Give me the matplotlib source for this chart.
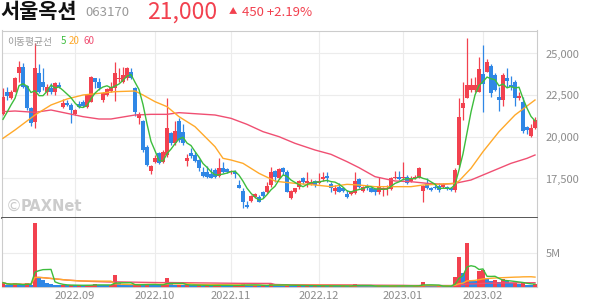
import numpy as np
import pandas as pd
import matplotlib
matplotlib.use('Agg')
import matplotlib.pyplot as plt

plt.rcParams['font.family'] = ['Noto Sans CJK KR', 'DejaVu Sans']

# daily OHLC (KRW), 2022-08 .. 2023-02-17
opens = [21370, 22710, 22310, 22710, 23810, 24210, 23050, 21750, 20870, 23810,
         23310, 22670, 22950, 22710, 23110, 21810, 22010, 21910, 21350, 21950,
         22110, 21810, 22110, 23510, 23310, 22210, 22510, 22750, 22910, 23450,
         23310, 23510, 23910, 22910, 21150, 20950, 19410, 17950, 18510, 19010,
         18510, 18910, 20210, 19610, 20950, 20310, 18550, 19010, 18910, 18590,
         17870, 17910, 17750, 18010, 17670, 18150, 18070, 17870, 17910, 17110,
         16750, 15910, 16150, 16410, 16410, 16670, 16710, 17110, 17950, 17510,
         18110, 17910, 16350, 16710, 17010, 17550, 17210, 17150, 17350, 17210,
         17470, 17630, 17150, 16750, 17010, 16910, 16550, 16550, 16610, 17470,
         16750, 17070, 16950, 16870, 16710, 16810, 16870, 16870, 17510, 17610,
         17510, 17610, 17350, 17550, 17550, 16750, 17150, 16950, 17010, 17070,
         17010, 17010, 16910, 16810, 18310, 21710, 22350, 22810, 22810, 22710,
         23750, 23910, 24270, 23710, 22410, 22210, 23510, 23110, 23310, 22310,
         22110, 20610, 20050, 20510]
highs = [22910, 23010, 22810, 23610, 24550, 24410, 23110, 21810, 25610, 24350,
         24110, 23150, 23210, 23310, 23310, 22270, 22210, 22010, 21670, 22150,
         22210, 22550, 23670, 23550, 23550, 22670, 22950, 23310, 24470, 24110,
         24210, 24170, 24110, 23010, 21470, 21010, 19510, 18310, 18910, 19110,
         19210, 22350, 20310, 20950, 21110, 20750, 18950, 19310, 19110, 18670,
         18210, 18270, 18110, 18110, 18710, 18510, 18150, 18030, 18010, 17410,
         16910, 16150, 16510, 16610, 16510, 16750, 17310, 18210, 18010, 18110,
         18210, 18010, 16810, 16950, 17410, 17610, 17870, 17470, 17410, 17810,
         17870, 17910, 17310, 17110, 17210, 17010, 16810, 16750, 17910, 17550,
         17070, 17150, 17010, 16950, 17610, 17010, 17110, 17610, 17950, 17950,
         18470, 17710, 17670, 17710, 18210, 17110, 17510, 17010, 17110, 17210,
         17210, 17070, 17010, 18150, 22350, 23310, 25950, 23510, 23610, 24810,
         25510, 24670, 24350, 23810, 23010, 23810, 24150, 23670, 23410, 22710,
         22410, 20650, 20750, 21210]
lows = [21310, 22210, 22270, 22670, 23310, 22910, 21610, 20670, 20550, 22610,
        22810, 22510, 22550, 22510, 22910, 21750, 21850, 20810, 21310, 21750,
        21810, 21750, 22070, 22910, 22810, 22110, 22470, 22670, 22150, 23310,
        23210, 23410, 23450, 21250, 20750, 19110, 18270, 17750, 18410, 18350,
        18410, 18810, 19510, 19510, 19710, 19510, 18270, 18750, 18510, 17950,
        17610, 17550, 17510, 17550, 17610, 17810, 17810, 17790, 17550, 16910,
        15750, 15750, 16110, 16310, 16070, 16310, 16610, 17010, 17310, 17470,
        17710, 16670, 16270, 16610, 16870, 17150, 17010, 17110, 17010, 17150,
        17350, 17310, 16710, 16550, 16670, 16710, 16350, 16510, 16550, 16910,
        16710, 16810, 16670, 16510, 16550, 16470, 16510, 16810, 17470, 17410,
        17410, 17150, 17310, 17470, 17510, 16110, 16870, 16770, 16870, 16710,
        16950, 16810, 16750, 16710, 18210, 21010, 22310, 22710, 22710, 22670,
        21510, 23870, 22410, 22750, 21550, 21870, 23010, 22810, 21870, 22210,
        20210, 20170, 20010, 20450]
closes = [22410, 22450, 22710, 23550, 24210, 23010, 21710, 20810, 24110, 22710,
          23010, 23010, 22710, 23210, 23010, 22010, 21910, 21610, 21610, 21810,
          21870, 22510, 23610, 23310, 22910, 22610, 22870, 23010, 23810, 23550,
          23710, 24110, 23510, 21510, 21350, 19210, 18310, 18250, 18710, 18410,
          19070, 20510, 19610, 20350, 19810, 19610, 18750, 18870, 18550, 18150,
          17670, 17610, 17550, 17610, 18150, 17910, 17910, 17970, 17750, 16950,
          16110, 15810, 16450, 16550, 16110, 16470, 17070, 17910, 17610, 18050,
          17910, 16710, 16750, 16910, 17350, 17310, 17350, 17310, 17110, 17350,
          17610, 17550, 16950, 16950, 16710, 16750, 16410, 16670, 17350, 17010,
          17010, 16950, 16710, 16710, 17010, 16910, 16950, 17550, 17610, 17470,
          17610, 17210, 17550, 17610, 18110, 17050, 16910, 16810, 16910, 16810,
          17150, 16870, 16810, 18010, 21210, 22010, 23110, 23110, 23110, 24050,
          23150, 24510, 22610, 22810, 22210, 23710, 23350, 23010, 22350, 22470,
          20350, 20410, 20550, 21000]
# volume, millions of shares
volumes_m = [0.63, 0.30, 0.28, 0.53, 0.30, 0.27, 0.58, 0.32, 9.35, 1.36,
             1.00, 0.63, 0.44, 0.29, 0.27, 0.31, 0.25, 0.28, 0.22, 0.26,
             0.24, 0.27, 0.30, 0.45, 0.28, 0.25, 0.22, 0.26, 1.74, 0.55,
             0.30, 0.28, 0.27, 0.32, 0.45, 0.36, 0.40, 0.33, 0.30, 0.26,
             0.28, 1.30, 0.48, 0.30, 0.33, 0.28, 0.30, 0.26, 0.22, 0.24,
             0.21, 0.23, 0.20, 0.22, 0.30, 0.24, 0.20, 0.18, 0.21, 0.27,
             0.44, 0.33, 0.22, 0.25, 0.20, 0.23, 0.21, 0.44, 0.30, 0.25,
             0.22, 0.30, 0.24, 0.20, 0.22, 0.18, 0.20, 0.17, 0.19, 0.16,
             0.18, 0.16, 0.19, 0.17, 0.15, 0.16, 0.14, 0.15, 0.44, 0.20,
             0.16, 0.15, 0.14, 0.13, 0.17, 0.14, 0.13, 0.15, 0.20, 0.16,
             0.18, 0.15, 0.14, 0.16, 0.25, 0.78, 0.22, 0.14, 0.12, 0.13,
             0.12, 0.14, 0.12, 1.50, 4.40, 2.10, 6.44, 1.00, 0.90, 2.30,
             2.47, 1.10, 0.92, 1.00, 0.78, 1.10, 0.87, 0.63, 0.65, 0.39,
             0.73, 0.29, 0.24, 0.44]

# moving averages (values before the window are not shown)
ma5_head = [21050, 21470, 21910, 22310]
ma20_idx = [0, 3, 8, 12, 16, 20, 24, 28, 33, 35, 38, 41, 44, 48, 53, 55, 57, 60,
            64, 68, 69, 73, 78, 82, 86, 89, 93, 98, 102, 105, 110, 113, 114, 117,
            120, 124, 128, 133]
ma20_val = [19910, 20410, 21310, 21910, 22270, 22510, 22610, 22710, 22750, 22510,
            22110, 21810, 21210, 20610, 19410, 18710, 18610, 18410, 17810, 17350,
            17310, 17210, 17110, 17010, 17150, 17110, 17010, 17010, 17010, 17110,
            17170, 17210, 17350, 18110, 19110, 20310, 21310, 22210]
ma60_idx = [0, 3, 8, 12, 16, 20, 24, 27, 33, 37, 41, 44, 53, 57, 61, 65, 69, 73,
            78, 82, 86, 89, 93, 98, 102, 106, 110, 113, 117, 120, 123, 127, 131, 133]
ma60_val = [21510, 21550, 21470, 21610, 21410, 21210, 21070, 21070, 21310, 21350,
            21350, 21450, 21310, 21110, 20750, 20310, 20010, 19610, 19210, 18950,
            18510, 18150, 17610, 17350, 17310, 17210, 17150, 17210, 17410, 17710,
            18010, 18410, 18710, 18910]

month_pos = [18, 38, 57, 79, 100, 120]
month_labels = ['2022.09', '2022.10', '2022.11', '2022.12', '2023.01', '2023.02']
price_ticks = [17500, 20000, 22500, 25000]

RED = '#f2414f'
BLUE = '#2f87e6'
GREEN = '#3dbd3d'
ORANGE = '#ffa92a'
PINK = '#f04f72'
GRID = '#ececec'
LBL = '#8c8c8c'

o = np.array(opens); h = np.array(highs); l = np.array(lows); c = np.array(closes)
x = np.arange(len(c))
vol = np.array(volumes_m) * 1e6

ma5 = pd.Series(c).rolling(5).mean().to_numpy()
ma5[:4] = ma5_head
vs = pd.Series(vol)
vma5 = vs.rolling(5, min_periods=1).mean()
vma20 = vs.rolling(20, min_periods=1).mean()
vma60 = vs.rolling(60, min_periods=1).mean()

fig = plt.figure(figsize=(5.94, 3.04), dpi=100)
W, H = 594.0, 304.0
ax = fig.add_axes([1.5 / W, 1 - 217.5 / H, 535.5 / W, 187 / H])
axv = fig.add_axes([1.5 / W, 1 - 287 / H, 535.5 / W, 69.5 / H])

# --- price pane
up = c >= o
cols = np.where(up, RED, BLUE)
ax.vlines(x, l, h, colors=cols, linewidth=0.9, zorder=3)
body_lo = np.minimum(o, c)
body_h = np.maximum(np.abs(c - o), 40)
ax.bar(x, body_h, bottom=body_lo, width=0.8, color=cols, linewidth=0, zorder=4)

ax.plot(ma60_idx, ma60_val, color=PINK, lw=1.0, zorder=5)
ax.plot(ma20_idx, ma20_val, color=ORANGE, lw=1.0, zorder=5)
ax.plot(x, ma5, color=GREEN, lw=1.0, zorder=6)

ax.set_xlim(-0.375, 133.5)
ax.set_ylim(15160, 26380)
ax.set_yticks(price_ticks)
ax.set_yticklabels([f'{v:,}' for v in price_ticks])
ax.yaxis.tick_right()
ax.tick_params(axis='y', length=0, pad=6, labelsize=8, labelcolor=LBL)
ax.set_xticks(month_pos)
ax.tick_params(axis='x', length=0, labelbottom=False)
ax.grid(True, color=GRID, lw=0.8, zorder=0)
for s in ['top', 'left', 'right']:
    ax.spines[s].set_color('#cccccc')
    ax.spines[s].set_linewidth(0.8)
ax.spines['bottom'].set_color('#3a3a3a')
ax.spines['bottom'].set_linewidth(1.2)

ty = 1 - 11 / 187
ax.text(6 / 535.5, ty, '이동평균선', transform=ax.transAxes, fontsize=7,
        color='#999999', va='center', ha='left')
ax.text(59 / 535.5, ty, '5', transform=ax.transAxes, fontsize=7,
        color=GREEN, va='center', ha='left')
ax.text(67.5 / 535.5, ty, '20', transform=ax.transAxes, fontsize=7,
        color=ORANGE, va='center', ha='left')
ax.text(82.5 / 535.5, ty, '60', transform=ax.transAxes, fontsize=7,
        color=PINK, va='center', ha='left')
ax.text(4 / 535.5, 11 / 187, '©', transform=ax.transAxes, fontsize=11.5,
        color='#cccccc', va='center', ha='left', family='DejaVu Sans')
ax.text(19 / 535.5, 11 / 187, 'PAXNet', transform=ax.transAxes, fontsize=10.5,
        color='#cccccc', va='center', ha='left', fontweight='bold', family='DejaVu Sans')

# --- volume pane
vcols = [RED] + [RED if vol[i] >= vol[i - 1] else BLUE for i in range(1, len(vol))]
axv.bar(x, vol, width=0.8, color=vcols, linewidth=0, zorder=3)
axv.plot(x, vma60, color=PINK, lw=1.0, zorder=4)
axv.plot(x, vma20, color=ORANGE, lw=1.0, zorder=4)
axv.plot(x, vma5, color=GREEN, lw=1.0, zorder=5)
axv.set_xlim(-0.375, 133.5)
axv.set_ylim(0, 10.1e6)
axv.set_yticks([5e6])
axv.set_yticklabels(['5M'])
axv.yaxis.tick_right()
axv.tick_params(axis='y', length=0, pad=6, labelsize=8, labelcolor=LBL)
axv.set_xticks(month_pos)
axv.set_xticklabels(month_labels)
axv.tick_params(axis='x', length=0, pad=3, labelsize=8, labelcolor=LBL)
axv.grid(True, color=GRID, lw=0.8, zorder=0)
axv.spines['top'].set_visible(False)
for s in ['left', 'right', 'bottom']:
    axv.spines[s].set_color('#cccccc')
    axv.spines[s].set_linewidth(0.8)

# --- header
fig.text(0 / W, 1 - 12 / H, '서울옥션', fontsize=15, fontweight='bold', color='#111111',
         va='center', ha='left')
fig.text(85 / W, 1 - 12.5 / H, '063170', fontsize=9.5, color='#999999', va='center', ha='left')
fig.text(147 / W, 1 - 12 / H, '21,000', fontsize=16.5, color=RED, va='center', ha='left')
fig.text(229 / W, 1 - 12 / H, '▲', fontsize=6, color=RED, va='center', ha='left')
fig.text(242 / W, 1 - 12.5 / H, '450 +2.19%', fontsize=9.5, color=RED, va='center', ha='left')

fig.savefig('out.png', dpi=100)
